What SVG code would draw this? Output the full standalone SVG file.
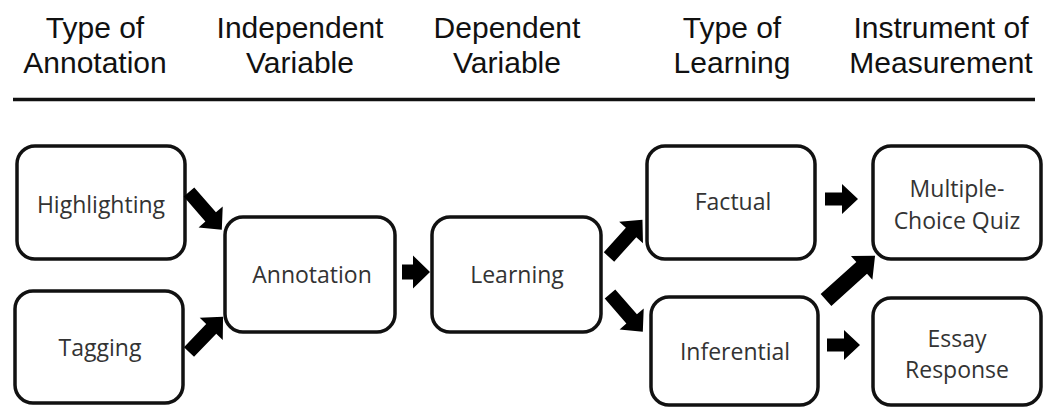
<svg xmlns="http://www.w3.org/2000/svg" width="1044" height="410" viewBox="0 0 1044 410">
  <style>
    .hdr { font-family: "Liberation Sans", Arial, sans-serif; font-size: 30px; fill: #111; text-anchor: middle; }
    .box { fill: #fff; stroke: #111; stroke-width: 3.5; }
    .lbl { font-family: "Open Sans", "Noto Sans", sans-serif; font-size: 23px; fill: #333; text-anchor: middle; }
    .arw { fill: #000; }
  </style>
  <rect width="1044" height="410" fill="#fff"/>

  <!-- column headings -->
  <g id="headings">
    <text class="hdr" x="95" y="38">Type of</text>
    <text class="hdr" x="95" y="73">Annotation</text>
    <text class="hdr" x="300" y="38">Independent</text>
    <text class="hdr" x="300" y="73">Variable</text>
    <text class="hdr" x="507" y="38">Dependent</text>
    <text class="hdr" x="507" y="73">Variable</text>
    <text class="hdr" x="732" y="38">Type of</text>
    <text class="hdr" x="732" y="73">Learning</text>
    <text class="hdr" x="941" y="38">Instrument of</text>
    <text class="hdr" x="941" y="73">Measurement</text>
  </g>
  <line x1="13" y1="99.5" x2="1035" y2="99.5" stroke="#111" stroke-width="3.5"/>

  <!-- nodes -->
  <g id="highlighting">
    <rect class="box" x="17" y="146" width="168" height="113" rx="18"/>
    <text class="lbl" x="101" y="213">Highlighting</text>
  </g>
  <g id="tagging">
    <rect class="box" x="15" y="291" width="168" height="112" rx="18"/>
    <text class="lbl" x="100" y="356">Tagging</text>
  </g>
  <g id="annotation">
    <rect class="box" x="225" y="217" width="170" height="115" rx="18"/>
    <text class="lbl" x="312" y="283">Annotation</text>
  </g>
  <g id="learning">
    <rect class="box" x="432" y="217" width="169" height="115" rx="18"/>
    <text class="lbl" x="517" y="283">Learning</text>
  </g>
  <g id="factual">
    <rect class="box" x="647" y="146" width="168" height="113" rx="18"/>
    <text class="lbl" x="733" y="210">Factual</text>
  </g>
  <g id="inferential">
    <rect class="box" x="651" y="297" width="167" height="108" rx="18"/>
    <text class="lbl" x="735" y="360">Inferential</text>
  </g>
  <g id="multiple-choice">
    <rect class="box" x="873" y="146" width="168" height="113" rx="18"/>
    <text class="lbl" x="957" y="197">Multiple-</text>
    <text class="lbl" x="957" y="229">Choice Quiz</text>
  </g>
  <g id="essay">
    <rect class="box" x="873" y="298" width="168" height="107" rx="18"/>
    <text class="lbl" x="957" y="347">Essay</text>
    <text class="lbl" x="957" y="378">Response</text>
  </g>

  <!-- block arrows: shaft along +x from the origin, head at the far end -->
  <g id="connectors">
    <path class="arw" transform="translate(189,192) rotate(49)" d="M0,-7 H33 V-16 L50,0 L33,16 V7 H0 Z"/>
    <path class="arw" transform="translate(189,352) rotate(-46)" d="M0,-7 H32 V-16 L49,0 L32,16 V7 H0 Z"/>
    <path class="arw" transform="translate(402,272)" d="M0,-7.5 H11 V-16.5 L28,0 L11,16.5 V7.5 H0 Z"/>
    <path class="arw" transform="translate(609,257) rotate(-48)" d="M0,-7 H33 V-16 L50,0 L33,16 V7 H0 Z"/>
    <path class="arw" transform="translate(610,294) rotate(49)" d="M0,-7 H33 V-16 L50,0 L33,16 V7 H0 Z"/>
    <path class="arw" transform="translate(825,199)" d="M0,-6.5 H17 V-15 L33,0 L17,15 V6.5 H0 Z"/>
    <path class="arw" transform="translate(826,300) rotate(-42)" d="M0,-8 H48 V-16 L66,0 L48,16 V8 H0 Z"/>
    <path class="arw" transform="translate(827,345)" d="M0,-6.5 H17 V-15 L33,0 L17,15 V6.5 H0 Z"/>
  </g>
</svg>
